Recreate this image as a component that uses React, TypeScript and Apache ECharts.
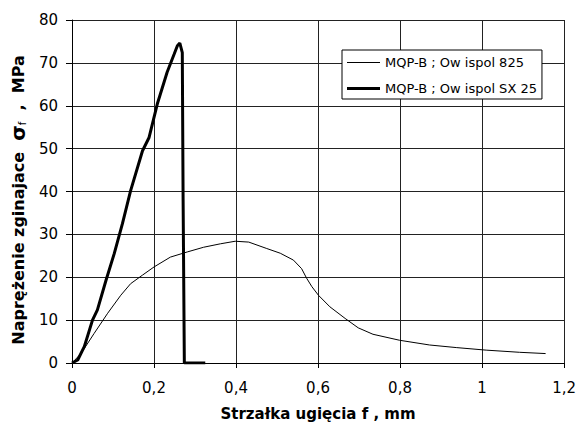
import React, { useEffect, useRef } from "react";
import * as echarts from "echarts";

const thinName = "MQP-B ; Ow ispol 825";
const thickName = "MQP-B ; Ow ispol SX 25";

const thinX = [0, 0.022, 0.054, 0.087, 0.119, 0.143, 0.172, 0.2, 0.24, 0.281, 0.321, 0.362, 0.398, 0.431, 0.475, 0.508, 0.54, 0.56, 0.572, 0.585, 0.601, 0.629, 0.666, 0.698, 0.734, 0.799, 0.872, 0.937, 1.01, 1.091, 1.155];
const thinY = [0, 2.2, 6.9, 11.6, 15.8, 18.5, 20.5, 22.4, 24.7, 25.9, 27.0, 27.8, 28.4, 28.2, 26.7, 25.6, 24.0, 22.0, 19.8, 17.8, 15.8, 13.1, 10.4, 8.2, 6.7, 5.3, 4.2, 3.6, 3.0, 2.5, 2.2];

const thickX = [0, 0.014, 0.03, 0.05, 0.062, 0.083, 0.103, 0.123, 0.143, 0.172, 0.188, 0.208, 0.232, 0.249, 0.257, 0.263, 0.269, 0.271, 0.274, 0.325];
const thickY = [0, 0.7, 3.8, 10, 12.4, 19.3, 25.5, 32.5, 40.2, 49.5, 52.6, 60.4, 67.8, 72.0, 74.0, 74.6, 72.4, 37.9, 0, 0];

const FONT = "DejaVu Sans";

const fmtX = (v: number) => String(Number(v.toFixed(1))).replace(".", ",");

export default function App() {
  const ref = useRef<HTMLDivElement>(null);
  useEffect(() => {
    if (!ref.current) return;
    const chart = echarts.init(ref.current, null, { renderer: "svg" });
    const thinData = thinX.map((x, i) => [x, thinY[i]]);
    const thickData = thickX.map((x, i) => [x, thickY[i]]);
    chart.setOption({
      animation: false,
      backgroundColor: "#ffffff",
      textStyle: { fontFamily: FONT, color: "#000" },
      grid: { left: 71, right: 13, top: 20, bottom: 64, containLabel: false },
      legend: {
        show: true,
        left: 342,
        top: 50,
        orient: "vertical",
        backgroundColor: "#fff",
        borderColor: "#000",
        borderWidth: 1,
        borderRadius: 0,
        padding: [6, 5, 4, 5],
        itemWidth: 33,
        itemHeight: 14,
        itemGap: 13,
        symbolKeepAspect: true,
        itemStyle: { color: "#000", borderWidth: 0 },
        lineStyle: { width: 0 },
        textStyle: { fontFamily: FONT, fontSize: 13, color: "#000" },
        data: [
          { name: thinName, icon: "path://M0,0L33,0L33,1L0,1Z" },
          { name: thickName, icon: "path://M0,0L33,0L33,3L0,3Z" },
        ],
      },
      xAxis: {
        type: "value",
        min: 0,
        max: 1.2,
        interval: 0.2,
        name: "Strzałka ugięcia f , mm",
        nameLocation: "middle",
        nameGap: 43,
        nameTextStyle: { fontFamily: FONT, fontSize: 15, fontWeight: "bold", color: "#000" },
        axisLine: { show: true, lineStyle: { color: "#000", width: 1 } },
        axisTick: { show: true, inside: false, length: 5, lineStyle: { color: "#000" } },
        axisLabel: { fontFamily: FONT, fontSize: 15, color: "#000", margin: 17, formatter: fmtX },
        splitLine: { show: true, lineStyle: { color: "#222", width: 1 } },
      },
      yAxis: {
        type: "value",
        min: 0,
        max: 80,
        interval: 10,
        name: "{a|Naprężenie zginajace  }{s|σ}{f|f}{b|  ,  MPa}",
        nameLocation: "middle",
        nameRotate: 90,
        nameGap: 30,
        nameTextStyle: {
          fontFamily: FONT,
          color: "#000",
          rich: {
            a: { fontFamily: FONT, fontSize: 16, fontWeight: "bold", color: "#000", lineHeight: 24, verticalAlign: "middle" },
            s: { fontFamily: FONT, fontSize: 20, fontWeight: "bold", color: "#000", lineHeight: 24, verticalAlign: "middle" },
            f: { fontFamily: FONT, fontSize: 10, color: "#000", lineHeight: 24, verticalAlign: "middle", padding: [8, 0, 0, 0] },
            b: { fontFamily: FONT, fontSize: 16, fontWeight: "bold", color: "#000", lineHeight: 24, verticalAlign: "middle", padding: [0, 17, 0, 0] },
          },
        },
        axisLine: { show: true, lineStyle: { color: "#000", width: 1 } },
        axisTick: { show: true, inside: false, length: 6, lineStyle: { color: "#000" } },
        axisLabel: { fontFamily: FONT, fontSize: 15, color: "#000", margin: 14 },
        splitLine: { show: true, lineStyle: { color: "#222", width: 1 } },
      },
      series: [
        {
          name: thinName,
          type: "line",
          data: thinData,
          symbol: "none",
          showSymbol: false,
          smooth: false,
          color: "#000",
          lineStyle: { color: "#000", width: 1 },
          itemStyle: { color: "#000" },
          z: 3,
        },
        {
          name: thickName,
          type: "line",
          data: thickData,
          symbol: "none",
          showSymbol: false,
          smooth: false,
          color: "#000",
          lineStyle: { color: "#000", width: 3 },
          itemStyle: { color: "#000" },
          z: 4,
        },
      ],
    });
    return () => chart.dispose();
  }, []);
  return (
    <div
      ref={ref}
      style={{ position: "fixed", left: 0, top: 0, width: 579, height: 427, background: "#fff" }}
    />
  );
}
